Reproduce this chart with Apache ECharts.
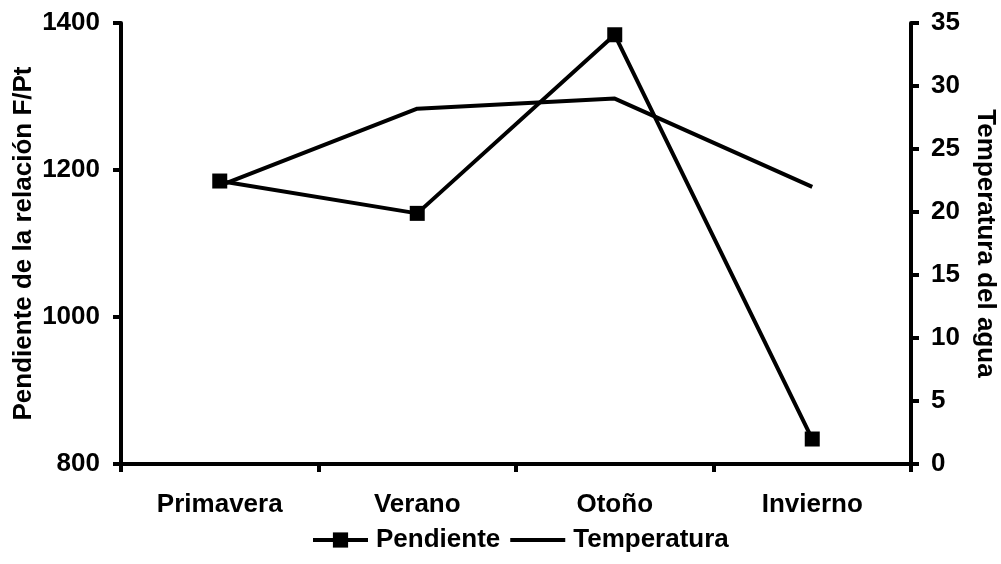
<!DOCTYPE html>
<html>
<head>
<meta charset="utf-8">
<script src="https://cdn.jsdelivr.net/npm/echarts@6/dist/echarts.min.js"></script>
<style>
html,body{margin:0;padding:0;background:#fff;}
#chart{width:1001px;height:564px;}
</style>
</head>
<body>
<div id="chart"></div>
<script>
const categories = ['Primavera', 'Verano', 'Otoño', 'Invierno'];
const pendiente = [1185, 1141, 1384, 834];
const temperatura = [22.1, 28.2, 29.0, 22.0];
const leftTicks = { min: 800, max: 1400, interval: 200 };
const rightTicks = { min: 0, max: 35, interval: 5 };

const FONT = "'Liberation Sans', Arial, sans-serif";
const FS = 26;
const chart = echarts.init(document.getElementById('chart'), null, { renderer: 'canvas' });
const axisLine = { show: true, lineStyle: { color: '#000', width: 4 } };
const axisTick = { show: true, length: 8, lineStyle: { color: '#000', width: 4 } };
const labelStyle = { color: '#000', fontFamily: FONT, fontWeight: 'bold', fontSize: FS };
const plain = function (v) { return String(v); };

chart.setOption({
  backgroundColor: '#fff',
  animation: false,
  grid: { left: 121, right: 90, top: 23, bottom: 100, containLabel: false, outerBoundsMode: 'none' },
  legend: {
    left: 306, top: 522,
    itemWidth: 55, itemHeight: 19, itemGap: 8,
    textStyle: Object.assign({}, labelStyle, { padding: [0, 0, 0, 3] }),
    data: [
      { name: 'Pendiente', lineStyle: { width: 4, color: '#000' }, itemStyle: { color: '#000' } },
      { name: 'Temperatura', lineStyle: { width: 4, color: '#000' }, itemStyle: { color: '#000', opacity: 0 } }
    ]
  },
  xAxis: {
    type: 'category',
    data: categories,
    boundaryGap: true,
    axisLine: axisLine,
    axisTick: Object.assign({}, axisTick, { alignWithLabel: false }),
    axisLabel: Object.assign({}, labelStyle, { margin: 28 }),
    splitLine: { show: false }
  },
  yAxis: [
    {
      type: 'value',
      position: 'left',
      min: leftTicks.min, max: leftTicks.max, interval: leftTicks.interval,
      name: 'Pendiente de la relación F/Pt',
      nameLocation: 'middle',
      nameGap: 84,
      nameMoveOverlap: false,
      nameTextStyle: labelStyle,
      axisLine: axisLine,
      axisTick: axisTick,
      axisLabel: Object.assign({}, labelStyle, { margin: 21, formatter: plain }),
      splitLine: { show: false }
    },
    {
      type: 'value',
      position: 'right',
      min: rightTicks.min, max: rightTicks.max, interval: rightTicks.interval,
      name: 'Temperatura del agua',
      nameLocation: 'middle',
      nameRotate: -90,
      nameGap: 61,
      nameMoveOverlap: false,
      nameTextStyle: labelStyle,
      axisLine: axisLine,
      axisTick: axisTick,
      axisLabel: Object.assign({}, labelStyle, { margin: 20, formatter: plain }),
      splitLine: { show: false }
    }
  ],
  series: [
    {
      name: 'Pendiente',
      type: 'line',
      yAxisIndex: 0,
      data: pendiente,
      symbol: 'rect',
      symbolSize: 15,
      showAllSymbol: true,
      itemStyle: { color: '#000' },
      lineStyle: { color: '#000', width: 4 },
      z: 3
    },
    {
      name: 'Temperatura',
      type: 'line',
      yAxisIndex: 1,
      data: temperatura,
      symbol: 'none',
      itemStyle: { color: '#000' },
      lineStyle: { color: '#000', width: 4 },
      z: 2
    }
  ]
});
</script>
</body>
</html>
